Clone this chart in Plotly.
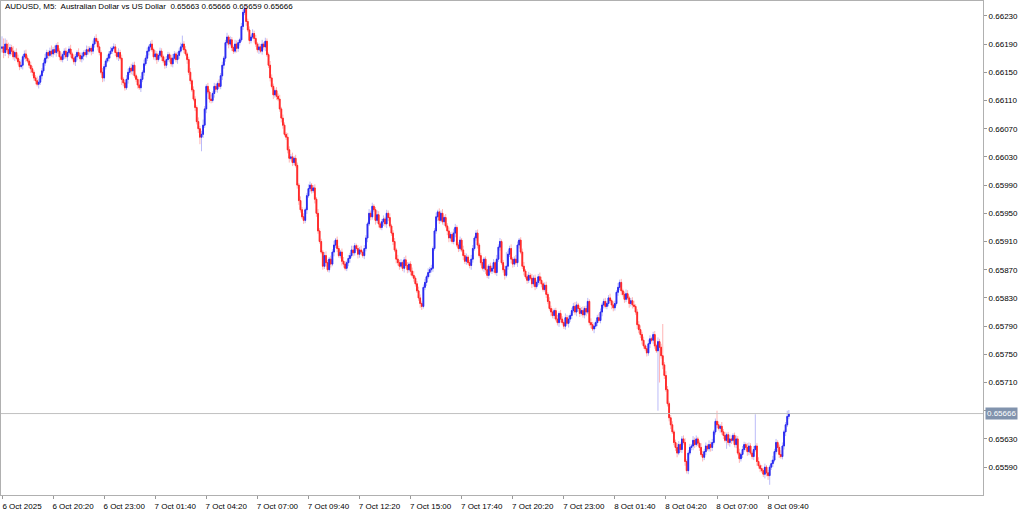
import plotly.graph_objects as go

title_text = "AUDUSD, M5:  Australian Dollar vs US Dollar  0.65663 0.65666 0.65659 0.65666"
last_price = 0.65666
first_open_pts = 66184

# closing prices in points (1e-5)
close_pts = [
    66186, 66178, 66190, 66182, 66176, 66185,
    66180, 66172, 66178, 66170, 66165, 66158,
    66160, 66172, 66176, 66170, 66166, 66160,
    66155, 66150, 66142, 66138, 66133, 66136,
    66145, 66152, 66163, 66170, 66178, 66174, 66180,
    66176, 66182, 66178, 66188, 66180, 66172,
    66168, 66175, 66180, 66172, 66178, 66183,
    66176, 66170, 66165, 66172, 66178, 66174, 66169,
    66173, 66178, 66175, 66182, 66180, 66184,
    66180, 66190, 66198, 66194, 66186, 66178,
    66150, 66142, 66158, 66166, 66170, 66176, 66180,
    66184, 66186, 66178, 66172, 66178, 66170,
    66140, 66135, 66128, 66140, 66150, 66156,
    66152, 66160, 66145, 66140, 66132, 66128,
    66140, 66150, 66162, 66170, 66180, 66186, 66190,
    66182, 66172, 66176, 66168, 66174, 66180,
    66172, 66166, 66160, 66168, 66175, 66170,
    66162, 66170, 66176, 66168, 66174, 66180,
    66186, 66190, 66182, 66176, 66168, 66150, 66138,
    66125, 66112, 66100, 66080, 66070, 66058,
    66062, 66075, 66098, 66130, 66122, 66112,
    66110, 66120, 66130, 66126, 66134, 66130,
    66145, 66160, 66170, 66192, 66200, 66190, 66196,
    66185, 66180, 66190, 66184, 66192, 66196,
    66215, 66235, 66240, 66222, 66210, 66195,
    66200, 66205, 66198, 66190, 66182, 66186, 66180,
    66190, 66186, 66194, 66175, 66160, 66142,
    66130, 66118, 66124, 66116, 66112, 66098,
    66085, 66075, 66062, 66058, 66040, 66028,
    66030, 66022, 66028, 66018, 65990, 65968, 65955,
    65945, 65940, 65955, 65975, 65985, 65990,
    65982, 65986, 65970, 65950, 65925, 65910,
    65895, 65875, 65890, 65880, 65870, 65885,
    65878, 65895, 65905, 65912, 65900, 65890, 65895,
    65882, 65878, 65872, 65880, 65886, 65890,
    65898, 65894, 65904, 65900, 65892, 65898,
    65895, 65890, 65900, 65915, 65935, 65950,
    65945, 65960, 65955, 65940, 65948, 65935, 65930,
    65938, 65942, 65935, 65950, 65944, 65932,
    65922, 65910, 65898, 65885, 65880, 65875,
    65880, 65872, 65884, 65876, 65870, 65878,
    65868, 65862, 65858, 65850, 65840, 65830, 65822,
    65818, 65845, 65852, 65860, 65866, 65870,
    65872, 65900, 65925, 65945, 65952, 65940,
    65950, 65938, 65944, 65932, 65925, 65915, 65920,
    65910, 65922, 65930, 65905, 65900, 65912,
    65898, 65890, 65882, 65888, 65880, 65876,
    65885, 65900, 65915, 65922, 65905, 65890,
    65880, 65872, 65885, 65870, 65862, 65875, 65868,
    65872, 65880, 65866, 65885, 65902, 65910,
    65880, 65870, 65862, 65875, 65892, 65900,
    65885, 65878, 65885, 65880, 65905, 65912,
    65895, 65875, 65868, 65860, 65855, 65862, 65858,
    65850, 65858, 65846, 65852, 65860, 65855,
    65850, 65842, 65848, 65835, 65825, 65815,
    65810, 65805, 65812, 65800, 65795, 65808,
    65800, 65795, 65790, 65802, 65794, 65800, 65805,
    65812, 65818, 65810, 65820, 65815, 65808,
    65812, 65806, 65815, 65810, 65825, 65795,
    65792, 65786, 65790, 65795, 65802, 65798,
    65810, 65820, 65825, 65818, 65822, 65830, 65826,
    65820, 65816, 65822, 65838, 65845, 65852,
    65840, 65835, 65828, 65836, 65830, 65822,
    65826, 65820, 65818, 65810, 65792, 65785, 65778,
    65770, 65762, 65758, 65752, 65765, 65772,
    65770, 65778, 65762, 65755, 65768, 65760,
    65748, 65735, 65720, 65700, 65680, 65660,
    65650, 65640, 65625, 65618, 65610, 65622, 65615,
    65630, 65625, 65598, 65585, 65610, 65618,
    65620, 65628, 65622, 65630, 65624, 65618,
    65608, 65604, 65612, 65620, 65616, 65622,
    65618, 65625, 65640, 65655, 65650, 65645, 65648,
    65640, 65635, 65628, 65636, 65625, 65630,
    65628, 65635, 65622, 65630, 65610, 65602,
    65608, 65615, 65622, 65618, 65612, 65620,
    65610, 65605, 65615, 65620, 65598, 65592, 65588,
    65585, 65580, 65590, 65582, 65578, 65590,
    65595, 65600, 65612, 65625, 65618, 65608,
    65605, 65620, 65640, 65650, 65662, 65666,
]

# upper wick lengths in points
hi_ext = [
    15, 12, 8, 6, 10, 5, 4, 7, 3, 6, 5, 4, 8, 3, 5, 6, 4, 3, 5, 4,
    3, 4, 6, 5, 3, 4, 5, 6, 4, 3, 5, 8, 4, 6, 3, 5, 4, 6, 3, 4,
    5, 3, 4, 6, 3, 5, 4, 3, 6, 4, 5, 3, 4, 6, 5, 3, 4, 5, 3, 6,
    4, 5, 3, 6, 4, 3, 5, 4, 6, 3, 5, 4, 3, 6, 4, 5, 3, 4, 6, 5,
    3, 6, 4, 5, 3, 4, 8, 5, 3, 6, 4, 5, 3, 4, 6, 3, 5, 4, 3, 5,
    4, 3, 6, 5, 4, 3, 5, 6, 4, 3, 5, 4, 6, 12, 4, 5, 3, 4, 6, 3,
    5, 4, 3, 6, 4, 5, 8, 4, 3, 5, 4, 6, 3, 5, 4, 3, 6, 4, 5, 3,
    4, 6, 3, 5, 4, 3, 6, 5, 4, 3, 5, 4, 5, 6, 4, 5, 3, 6, 4, 5,
    3, 5, 4, 6, 3, 5, 4, 3, 6, 5, 4, 3, 5, 4, 6, 3, 5, 4, 3, 6,
    5, 4, 6, 3, 5, 4, 3, 6, 4, 5, 3, 4, 6, 5, 3, 4, 5, 3, 6, 4,
    4, 3, 5, 6, 4, 3, 5, 4, 6, 3, 5, 4, 3, 5, 6, 4, 3, 5, 4, 6,
    6, 4, 3, 5, 4, 6, 3, 5, 4, 3, 6, 4, 5, 3, 4, 6, 5, 3, 4, 5,
    3, 5, 4, 6, 3, 4, 5, 3, 6, 4, 5, 3, 4, 6, 5, 3, 4, 5, 6, 3,
    4, 6, 5, 3, 4, 5, 3, 6, 4, 5, 3, 4, 6, 3, 5, 4, 6, 3, 5, 4,
    5, 3, 4, 6, 5, 3, 4, 5, 3, 6, 4, 5, 3, 4, 6, 5, 3, 4, 5, 3,
    4, 5, 3, 4, 6, 3, 5, 4, 5, 3, 6, 4, 5, 3, 4, 6, 20, 5, 4, 6,
    3, 4, 6, 5, 3, 4, 5, 6, 3, 4, 5, 3, 6, 4, 5, 3, 4, 6, 5, 3,
    4, 5, 3, 6, 4, 5, 3, 4, 6, 3, 5, 4, 3, 6, 4, 5, 3, 4, 5, 6,
    5, 3, 4, 5, 6, 3, 4, 5, 3, 6, 4, 5, 3, 4, 6, 5, 3, 4, 5, 3,
    4, 6, 3, 5, 4, 3, 6, 4, 5, 3, 4, 6, 5, 3, 4, 5, 6, 3, 4, 5,
    6, 4, 5, 3, 4, 6, 5, 3, 4, 5, 3, 6, 4, 5, 45, 4, 6, 5, 3, 4,
    5, 3, 4, 6, 5, 3, 4, 5, 6, 3, 4, 5, 3, 6, 4, 5, 3, 4, 6, 5,
    4, 5, 3, 6, 4, 5, 3, 4, 15, 5, 3, 6, 4, 5, 3, 4, 6, 5, 3, 4,
    5, 4, 6, 3, 5, 4, 3, 6, 5, 4, 3, 5, 45, 4, 6, 3, 5, 4, 5, 3,
    4, 3, 5, 6, 4, 5, 3, 4, 6, 5, 3, 4, 8, 5, 3, 4, 6, 5, 3, 4,
]

# lower wick lengths in points
lo_ext = [
    6, 8, 5, 4, 6, 3, 5, 4, 6, 3, 4, 5, 3, 6, 4, 5, 3, 4, 6, 5,
    4, 5, 3, 6, 4, 5, 3, 4, 6, 5, 3, 4, 5, 3, 6, 4, 5, 3, 4, 6,
    3, 6, 4, 5, 3, 4, 6, 5, 3, 4, 5, 6, 3, 4, 5, 3, 6, 4, 5, 3,
    5, 4, 3, 6, 5, 4, 3, 5, 6, 4, 3, 5, 4, 6, 3, 8, 5, 4, 3, 6,
    4, 5, 6, 3, 4, 5, 3, 6, 4, 5, 3, 4, 6, 5, 3, 4, 5, 6, 3, 4,
    6, 3, 5, 4, 3, 6, 4, 5, 3, 4, 6, 5, 3, 4, 5, 3, 6, 4, 5, 3,
    3, 5, 4, 6, 10, 20, 5, 4, 6, 3, 5, 4, 3, 6, 4, 5, 3, 4, 6, 5,
    5, 4, 6, 3, 5, 4, 3, 6, 5, 4, 3, 5, 4, 6, 3, 5, 4, 3, 6, 4,
    4, 6, 3, 5, 4, 6, 3, 4, 5, 3, 6, 4, 5, 3, 4, 6, 5, 3, 4, 5,
    6, 3, 5, 4, 3, 5, 6, 4, 3, 5, 4, 6, 3, 5, 4, 3, 6, 5, 4, 3,
    3, 5, 4, 6, 3, 4, 5, 3, 6, 4, 5, 3, 4, 6, 5, 3, 4, 5, 6, 3,
    5, 4, 3, 6, 5, 4, 3, 5, 4, 6, 3, 5, 4, 3, 6, 4, 5, 3, 4, 6,
    4, 6, 5, 3, 4, 5, 3, 6, 4, 5, 3, 4, 6, 3, 5, 4, 6, 3, 5, 4,
    3, 4, 6, 5, 3, 4, 5, 3, 6, 4, 5, 3, 4, 6, 5, 3, 4, 5, 3, 6,
    6, 5, 3, 4, 6, 3, 5, 4, 3, 6, 4, 5, 3, 4, 6, 5, 3, 4, 5, 3,
    4, 3, 5, 6, 4, 5, 3, 4, 6, 3, 5, 4, 5, 3, 4, 6, 3, 5, 4, 6,
    5, 4, 3, 6, 5, 3, 4, 6, 3, 5, 4, 3, 6, 4, 5, 3, 4, 6, 5, 3,
    3, 5, 4, 3, 6, 4, 5, 3, 4, 6, 5, 3, 4, 5, 3, 6, 4, 5, 3, 4,
    6, 4, 5, 3, 4, 5, 6, 3, 4, 5, 3, 6, 4, 5, 3, 4, 6, 5, 3, 4,
    4, 3, 6, 5, 4, 3, 5, 4, 6, 3, 5, 4, 3, 6, 4, 5, 3, 4, 6, 5,
    5, 6, 4, 3, 5, 4, 6, 3, 5, 4, 3, 85, 50, 4, 6, 5, 3, 4, 5, 6,
    3, 4, 5, 6, 3, 4, 5, 3, 6, 4, 5, 3, 4, 6, 5, 3, 4, 5, 3, 6,
    4, 5, 3, 4, 6, 5, 3, 4, 5, 3, 6, 4, 5, 3, 12, 4, 6, 5, 3, 4,
    5, 3, 6, 4, 5, 3, 4, 6, 5, 3, 4, 5, 3, 6, 4, 5, 3, 4, 6, 5,
    6, 13, 4, 5, 3, 4, 6, 5, 3, 4, 5, 6, 3, 4, 5, 3, 4, 6, 5, 3,
]

time_labels = ["6 Oct 2025", "6 Oct 20:20", "6 Oct 23:00", "7 Oct 01:40", "7 Oct 04:20",
               "7 Oct 07:00", "7 Oct 09:40", "7 Oct 12:20", "7 Oct 15:00", "7 Oct 17:40",
               "7 Oct 20:20", "7 Oct 23:00", "8 Oct 01:40", "8 Oct 04:20", "8 Oct 07:00",
               "8 Oct 09:40"]
bars_per_label = 32
price_ticks = [0.65590, 0.65630, 0.65670, 0.65710, 0.65750, 0.65790, 0.65830, 0.65870,
               0.65910, 0.65950, 0.65990, 0.66030, 0.66070, 0.66110, 0.66150, 0.66190, 0.66230]

n = len(close_pts)
idx = list(range(n))
opens_p = [first_open_pts] + close_pts[:-1]
o = [v / 1e5 for v in opens_p]
c = [v / 1e5 for v in close_pts]
h = [(max(opens_p[i], close_pts[i]) + hi_ext[i]) / 1e5 for i in idx]
l = [(min(opens_p[i], close_pts[i]) - lo_ext[i]) / 1e5 for i in idx]
bt = [max(o[i], c[i]) for i in idx]
bb = [min(o[i], c[i]) for i in idx]

# the tick hidden behind the current-price box gets no label
tick_text = ["" if abs(v - last_price) < 0.0001 else f"{v:.5f}" for v in price_ticks]

UP, DN = "#2b2bf0", "#ff2a2a"
UPW, DNW = "rgba(60,60,235,0.35)", "rgba(255,40,40,0.35)"

fig = go.Figure()
fig.add_trace(go.Candlestick(
    x=idx, open=o, high=h, low=l, close=c,
    increasing=dict(line=dict(color=UPW, width=1), fillcolor=UPW),
    decreasing=dict(line=dict(color=DNW, width=1), fillcolor=DNW),
    hoverinfo="skip", showlegend=False))
fig.add_trace(go.Candlestick(
    x=idx, open=o, high=bt, low=bb, close=c,
    increasing=dict(line=dict(color=UP, width=1), fillcolor=UP),
    decreasing=dict(line=dict(color=DN, width=1), fillcolor=DN),
    hoverinfo="skip", showlegend=False))

fig.add_hline(y=last_price, line=dict(color="#c0c0c0", width=1))

fig.add_annotation(x=0, y=1, xref="paper", yref="paper", xanchor="left", yanchor="top",
                   text=title_text, showarrow=False, xshift=2, yshift=1,
                   font=dict(size=8, color="#000000"))
fig.add_annotation(x=1, y=last_price, xref="paper", yref="y", xanchor="left", yanchor="middle",
                   text=f"{last_price:.5f}", showarrow=False, xshift=2,
                   bgcolor="#8193ad", borderpad=1, font=dict(size=8, color="#ffffff"))

fig.update_layout(
    width=1024, height=511,
    margin=dict(l=1, r=41, t=0, b=14),
    paper_bgcolor="white", plot_bgcolor="white",
    font=dict(family="Liberation Sans, Arial, sans-serif", size=8, color="#000000"),
    showlegend=False,
    xaxis=dict(range=[-0.63, 614.66], rangeslider=dict(visible=False),
               tickvals=[k * bars_per_label for k in range(len(time_labels))],
               ticktext=time_labels, ticks="outside", ticklen=3, tickcolor="#999999",
               showgrid=False, zeroline=False, showline=True, linecolor="#b0b0b0",
               mirror=True, ticklabelshift=20, ticklabelstandoff=0,
               tickfont=dict(size=8, color="#000000")),
    yaxis=dict(range=[0.655505, 0.662511], side="right",
               tickvals=price_ticks, ticktext=tick_text,
               ticks="outside", ticklen=3, tickcolor="#999999",
               showgrid=False, zeroline=False, showline=True, linecolor="#b0b0b0",
               mirror=True, tickfont=dict(size=8, color="#000000")),
)

fig.write_html("out.html", config={"displayModeBar": False},
               post_script="document.body.style.margin='0px';")
